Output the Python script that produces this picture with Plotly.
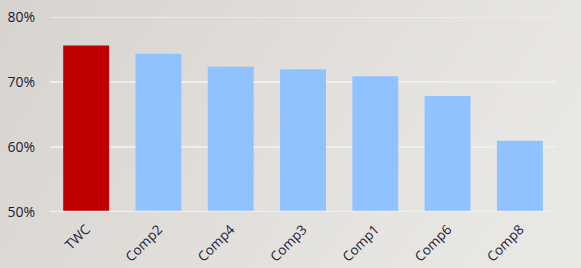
import plotly.graph_objects as go
import base64

categories = ["TWC", "Comp2", "Comp4", "Comp3", "Comp1", "Comp6", "Comp8"]
values = [75.6, 74.35, 72.35, 71.95, 70.9, 67.85, 60.95]
colors = ["#C00000"] + ["#90C2FF"] * 6
y_ticks = [50, 60, 70, 80]
y_labels = ["50%", "60%", "70%", "80%"]

W, H = 581, 268
L, R, T, B = 50, 25, 17, 56
pw, ph = W - L - R, H - T - B

svg = ('<svg xmlns="http://www.w3.org/2000/svg" width="581" height="268">'
       '<defs><linearGradient id="g" x1="0" y1="0" x2="1" y2="0.3">'
       '<stop offset="0" stop-color="#d7d4cf"/><stop offset="1" stop-color="#e9e7e4"/>'
       '</linearGradient></defs><rect width="581" height="268" fill="url(#g)"/></svg>')
src = "data:image/svg+xml;base64," + base64.b64encode(svg.encode()).decode()

fig = go.Figure(go.Bar(x=categories, y=values, marker=dict(color=colors, line=dict(width=0)),
                       width=0.635))
fig.update_layout(
    width=W, height=H,
    margin=dict(l=L, r=R, t=T, b=B, autoexpand=False),
    paper_bgcolor="#dfdcd8", plot_bgcolor="rgba(0,0,0,0)",
    showlegend=False,
    font=dict(family="Open Sans", size=14, color="#1b1b3a"),
    images=[dict(source=src, xref="paper", yref="paper", x=-L / pw, y=1 + T / ph,
                 sizex=W / pw, sizey=H / ph, sizing="stretch", layer="below",
                 xanchor="left", yanchor="top")],
    xaxis=dict(tickangle=-45, showgrid=False, showline=False, ticks="", automargin=False,
               tickfont=dict(size=13.5), ticklabelstandoff=6),
    yaxis=dict(range=[50, 80], tickvals=y_ticks, ticktext=y_labels, showgrid=True,
               gridcolor="#eeeeee", gridwidth=1.5, zeroline=False, ticks="", automargin=False,
               ticklabelstandoff=14),
)
fig.add_hline(y=50, line=dict(color="#eeeeee", width=2.5), layer="above")
fig.add_hline(y=80, line=dict(color="#eeeeee", width=1.5), layer="below")
fig.write_html("out.html", config={"displayModeBar": False},
               post_script="document.body.style.margin='0';document.body.style.overflow='hidden';")
